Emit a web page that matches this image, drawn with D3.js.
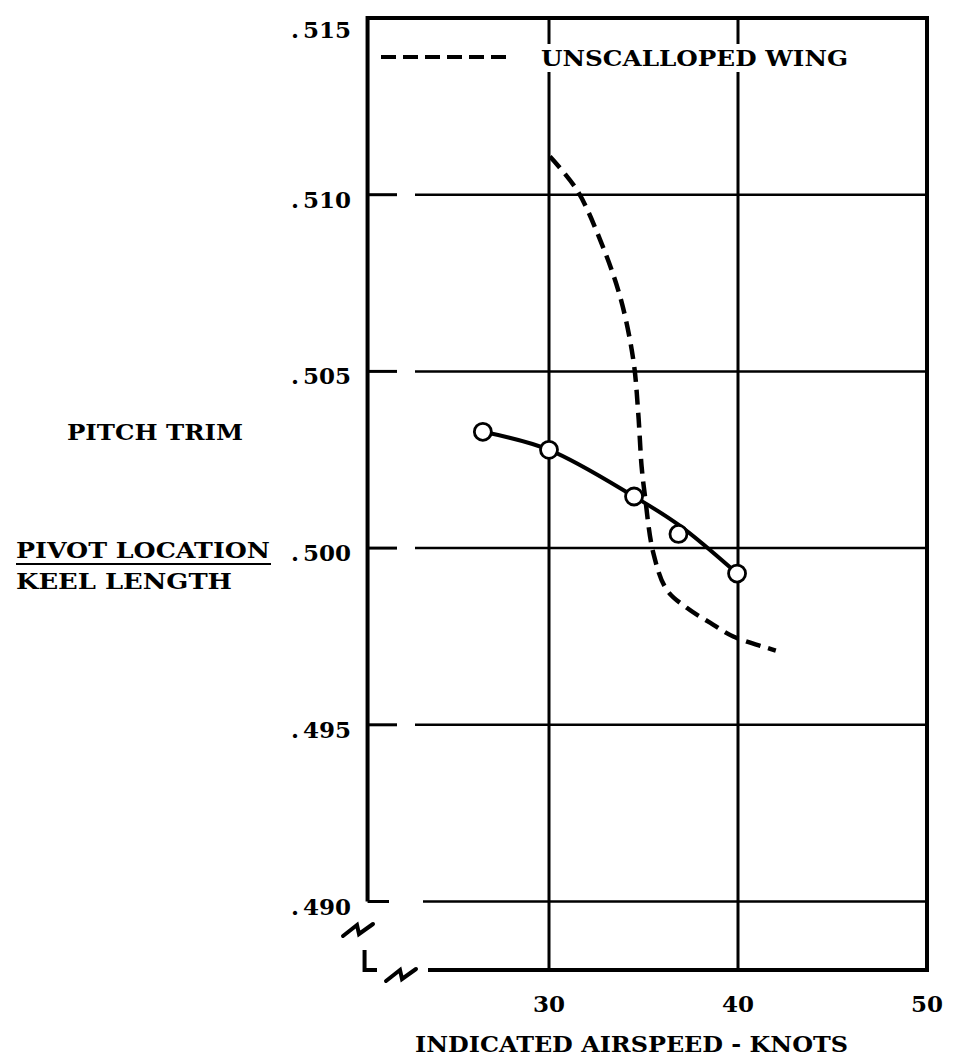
<!DOCTYPE html>
<html lang="en">
<head>
<meta charset="utf-8">
<title>Pitch trim vs airspeed</title>
<script src="https://cdn.jsdelivr.net/npm/d3@7"></script>
<style>
  body { margin: 0; background: #ffffff; }
  text { font-family: "DejaVu Serif", serif; font-weight: bold; fill: #000; }
</style>
</head>
<body>
<div id="chart"></div>
<script>
// tick values
var xTicks = [30, 40, 50];
var yTicks = [0.490, 0.495, 0.500, 0.505, 0.510, 0.515];
var yTickLabels = ["490", "495", "500", "505", "510", "515"];

// test points (knots, pivot location / keel length)
var testSpeed = [26.5, 30.0, 34.5, 36.85, 39.95];
var testTrim = [0.50329, 0.50278, 0.50146, 0.50040, 0.49928];

// faired curve through the test points
var fairSpeed = [26.5, 30.0, 34.5, 36.9, 39.95];
var fairTrim = [0.50329, 0.50278, 0.50146, 0.50064, 0.49928];

// unscalloped wing (dashed)
var unscSpeed = [30.05, 31.47, 32.70, 33.76, 34.46, 34.72, 34.90, 35.08, 35.52, 36.23, 37.29, 38.52, 39.75, 41.52, 42.0];
var unscTrim = [0.51108, 0.51014, 0.50873, 0.50712, 0.50533, 0.50383, 0.50231, 0.50146, 0.49986, 0.49882, 0.49831, 0.49789, 0.49750, 0.49718, 0.49710];

var legendLabel = "UNSCALLOPED WING";

var svg = d3.select("#chart").append("svg")
  .attr("width", 954)
  .attr("height", 1057);

var x = d3.scaleLinear().domain([30, 50]).range([549, 927]);
var y = d3.scaleLinear().domain([0.490, 0.515]).range([901.5, 18]);

var xLeft = x(20.4);        // broken left axis
var xRight = x(50);
var yTop = y(0.515);
var yBottom = y(0.48806);

// vertical grid lines
svg.selectAll(".vgrid").data([30, 40]).enter().append("line")
  .attr("x1", function(d) { return x(d); })
  .attr("x2", function(d) { return x(d); })
  .attr("y1", yTop).attr("y2", yBottom)
  .attr("stroke", "#000").attr("stroke-width", 3);

// horizontal grid lines, with short tick then a gap
var hgrid = yTicks.filter(function(d) { return d < 0.515; });
svg.selectAll(".hgrid").data(hgrid).enter().append("line")
  .attr("x1", function(d) { return d == 0.490 ? 423 : 415; })
  .attr("x2", xRight)
  .attr("y1", function(d) { return y(d); })
  .attr("y2", function(d) { return y(d); })
  .attr("stroke", "#000").attr("stroke-width", 2.5);
svg.selectAll(".ytick").data(hgrid).enter().append("line")
  .attr("x1", xLeft)
  .attr("x2", function(d) { return d == 0.490 ? 389 : 397; })
  .attr("y1", function(d) { return y(d); })
  .attr("y2", function(d) { return y(d); })
  .attr("stroke", "#000").attr("stroke-width", 3);

// frame: top, right, left (down to .490), bottom
svg.append("path")
  .attr("d", "M" + xLeft + "," + y(0.490) + "V" + yTop + "H" + xRight + "V" + yBottom + "H428")
  .attr("fill", "none").attr("stroke", "#000").attr("stroke-width", 4)
  .attr("stroke-linejoin", "miter");

// axis break pieces
svg.append("path")
  .attr("d", "M" + (xLeft - 3) + ",950V" + yBottom + "H377")
  .attr("fill", "none").attr("stroke", "#000").attr("stroke-width", 4);
function zig(cx, cy) {
  return "M" + (cx - 15) + "," + (cy + 6) + "L" + (cx - 1) + "," + (cy - 5) +
    "L" + (cx + 1) + "," + (cy + 4) + "L" + (cx + 15) + "," + (cy - 6);
}
svg.append("path").attr("d", zig(358, 930))
  .attr("fill", "none").attr("stroke", "#000").attr("stroke-width", 4).attr("stroke-linecap", "round");
svg.append("path").attr("d", zig(401, 975))
  .attr("fill", "none").attr("stroke", "#000").attr("stroke-width", 4).attr("stroke-linecap", "round");

// legend (white box breaks the grid lines)
svg.append("rect")
  .attr("x", 378).attr("y", 44).attr("width", 485).attr("height", 28)
  .attr("fill", "#fff");
svg.append("line")
  .attr("x1", 381).attr("x2", 512).attr("y1", 57).attr("y2", 57)
  .attr("stroke", "#000").attr("stroke-width", 4)
  .attr("stroke-dasharray", "15,7");
svg.append("text")
  .attr("x", 541).attr("y", 66)
  .attr("textLength", 307).attr("lengthAdjust", "spacingAndGlyphs")
  .style("font-size", "23px")
  .text(legendLabel);

// y tick labels
var ylab = svg.selectAll(".ylab").data(yTicks).enter().append("text")
  .attr("x", 351)
  .attr("y", function(d) { return d == 0.515 ? y(d) + 20 : y(d) + 13; })
  .attr("text-anchor", "end")
  .style("font-size", "23px");
ylab.append("tspan").text(".");
ylab.append("tspan").attr("dx", 4).text(function(d, i) { return yTickLabels[i]; });

// x tick labels
svg.selectAll(".xlab").data(xTicks).enter().append("text")
  .attr("x", function(d) { return x(d); })
  .attr("y", 1012)
  .attr("text-anchor", "middle")
  .style("font-size", "23px")
  .text(function(d) { return d; });

// axis titles
svg.append("text").attr("x", 415).attr("y", 1052)
  .attr("textLength", 433).attr("lengthAdjust", "spacingAndGlyphs")
  .style("font-size", "23px")
  .text("INDICATED AIRSPEED - KNOTS");
svg.append("text").attr("x", 67).attr("y", 440)
  .attr("textLength", 176).attr("lengthAdjust", "spacingAndGlyphs")
  .style("font-size", "23px")
  .text("PITCH TRIM");
svg.append("text").attr("x", 16).attr("y", 558)
  .attr("textLength", 254).attr("lengthAdjust", "spacingAndGlyphs")
  .style("font-size", "23px")
  .text("PIVOT LOCATION");
svg.append("line").attr("x1", 16).attr("x2", 271).attr("y1", 564).attr("y2", 564)
  .attr("stroke", "#000").attr("stroke-width", 2);
svg.append("text").attr("x", 16).attr("y", 589)
  .attr("textLength", 216).attr("lengthAdjust", "spacingAndGlyphs")
  .style("font-size", "23px")
  .text("KEEL LENGTH");

// curves
var line = d3.line()
  .x(function(d) { return x(d[0]); })
  .y(function(d) { return y(d[1]); })
  .curve(d3.curveCatmullRom);

svg.append("path")
  .datum(d3.zip(unscSpeed, unscTrim))
  .attr("d", line)
  .attr("fill", "none").attr("stroke", "#000").attr("stroke-width", 4.5)
  .attr("stroke-dasharray", "15,8");

svg.append("path")
  .datum(d3.zip(fairSpeed, fairTrim))
  .attr("d", line)
  .attr("fill", "none").attr("stroke", "#000").attr("stroke-width", 4);

svg.selectAll(".pt").data(d3.zip(testSpeed, testTrim)).enter().append("circle")
  .attr("cx", function(d) { return x(d[0]); })
  .attr("cy", function(d) { return y(d[1]); })
  .attr("r", 8.5)
  .attr("fill", "#fff").attr("stroke", "#000").attr("stroke-width", 2.8);
</script>
</body>
</html>
